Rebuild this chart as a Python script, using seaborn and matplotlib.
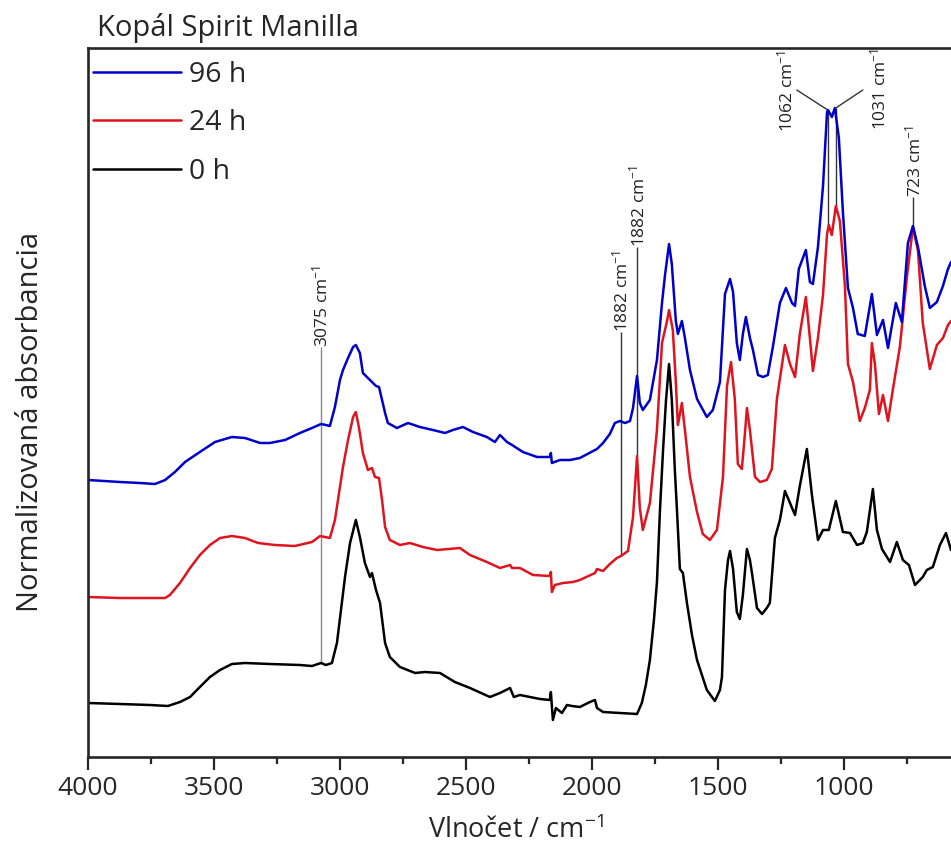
import matplotlib
matplotlib.use("Agg")
import matplotlib.pyplot as plt
import seaborn as sns
from matplotlib.ticker import MultipleLocator

# FTIR spectra (wavenumber in cm-1, normalised absorbance, stacked)
wn_0h = [4000, 3873, 3754, 3683, 3635, 3595, 3556, 3516, 3476, 3429, 3377, 3278, 3159, 3111, 3075, 3056,
         3032, 3012, 2996, 2980, 2960, 2937, 2921, 2901, 2881, 2873, 2857, 2841, 2821, 2802, 2762, 2702,
         2663, 2603, 2544, 2484, 2405, 2365, 2325, 2310, 2286, 2206, 2167, 2163, 2155, 2143, 2119, 2099,
         2079, 2048, 2008, 1988, 1980, 1956, 1889, 1821, 1802, 1786, 1770, 1754, 1742, 1730, 1718, 1706,
         1694, 1683, 1671, 1663, 1651, 1639, 1623, 1603, 1583, 1544, 1512, 1492, 1484, 1472, 1460, 1452,
         1440, 1425, 1413, 1401, 1385, 1373, 1365, 1345, 1325, 1306, 1294, 1274, 1254, 1234, 1214, 1194,
         1175, 1147, 1127, 1103, 1083, 1060, 1032, 1004, 976, 948, 925, 909, 885, 869, 849, 817,
         790, 766, 742, 718, 687, 671, 647, 619, 595, 575]
abs_0h = [0.54, 0.53, 0.52, 0.51, 0.55, 0.60, 0.70, 0.80, 0.87, 0.93, 0.94, 0.93, 0.92, 0.91, 0.94, 0.92,
          0.94, 1.14, 1.47, 1.80, 2.14, 2.37, 2.20, 1.94, 1.80, 1.84, 1.67, 1.54, 1.14, 1.00, 0.90, 0.84,
          0.85, 0.84, 0.75, 0.69, 0.60, 0.64, 0.69, 0.60, 0.62, 0.58, 0.57, 0.65, 0.37, 0.49, 0.44, 0.52,
          0.51, 0.50, 0.55, 0.57, 0.49, 0.45, 0.44, 0.43, 0.54, 0.72, 0.97, 1.37, 1.75, 2.47, 3.06, 3.57,
          3.93, 3.57, 2.87, 2.49, 1.88, 1.84, 1.54, 1.22, 0.97, 0.67, 0.56, 0.67, 0.80, 1.67, 1.97, 2.06,
          1.88, 1.45, 1.38, 1.62, 2.08, 1.97, 1.84, 1.49, 1.43, 1.49, 1.54, 2.19, 2.37, 2.66, 2.54, 2.42,
          2.71, 3.08, 2.62, 2.17, 2.27, 2.27, 2.56, 2.25, 2.24, 2.12, 2.14, 2.25, 2.68, 2.27, 2.08, 1.95,
          2.15, 1.97, 1.92, 1.72, 1.80, 1.87, 1.90, 2.12, 2.24, 2.07]

wn_24h = [4000, 3873, 3754, 3694, 3675, 3635, 3595, 3556, 3516, 3476, 3429, 3377, 3325, 3258, 3179, 3111,
          3079, 3060, 3040, 3020, 3000, 2988, 2968, 2948, 2937, 2925, 2909, 2889, 2873, 2861, 2845, 2833,
          2821, 2802, 2762, 2722, 2671, 2615, 2524, 2484, 2417, 2365, 2325, 2317, 2286, 2234, 2167, 2163,
          2159, 2147, 2115, 2075, 2048, 1988, 1980, 1956, 1929, 1901, 1885, 1857, 1837, 1821, 1810, 1798,
          1770, 1742, 1722, 1702, 1694, 1679, 1667, 1659, 1643, 1631, 1611, 1583, 1560, 1532, 1504, 1480,
          1464, 1448, 1433, 1421, 1405, 1393, 1385, 1373, 1353, 1333, 1306, 1286, 1266, 1234, 1214, 1194,
          1175, 1151, 1135, 1123, 1103, 1083, 1067, 1060, 1048, 1032, 1016, 996, 984, 964, 937, 917,
          897, 889, 877, 861, 845, 825, 806, 778, 750, 726, 706, 687, 659, 631, 607, 587, 575]
abs_24h = [1.60, 1.59, 1.59, 1.59, 1.62, 1.74, 1.89, 2.02, 2.12, 2.19, 2.21, 2.19, 2.14, 2.12, 2.11, 2.15,
           2.21, 2.20, 2.19, 2.37, 2.70, 2.90, 3.17, 3.40, 3.45, 3.30, 3.04, 2.87, 2.89, 2.80, 2.79, 2.57,
           2.30, 2.17, 2.12, 2.14, 2.10, 2.07, 2.09, 2.02, 1.95, 1.89, 1.92, 1.89, 1.89, 1.82, 1.81, 1.85,
           1.65, 1.72, 1.74, 1.75, 1.77, 1.84, 1.88, 1.86, 1.93, 1.99, 2.01, 2.06, 2.40, 3.01, 2.49, 2.27,
           2.54, 3.27, 4.14, 4.36, 4.47, 4.27, 3.75, 3.32, 3.54, 3.27, 2.80, 2.45, 2.23, 2.17, 2.27, 2.80,
           3.71, 3.95, 3.58, 2.93, 2.88, 3.23, 3.49, 3.27, 2.80, 2.75, 2.77, 2.88, 3.58, 4.12, 3.93, 3.80,
           4.23, 4.60, 4.19, 3.86, 4.19, 4.62, 5.23, 5.32, 5.22, 5.51, 5.36, 4.71, 3.93, 3.75, 3.36, 3.49,
           3.67, 4.14, 3.93, 3.43, 3.62, 3.36, 3.67, 4.10, 4.80, 5.30, 5.06, 4.34, 3.88, 4.12, 4.19, 4.32, 4.36]

wn_96h = [4000, 3873, 3794, 3734, 3694, 3655, 3615, 3556, 3496, 3429, 3377, 3317, 3278, 3218, 3159, 3111,
          3075, 3056, 3040, 3020, 3000, 2988, 2968, 2948, 2937, 2921, 2909, 2889, 2873, 2857, 2845, 2833,
          2821, 2810, 2774, 2730, 2683, 2631, 2583, 2552, 2512, 2472, 2417, 2385, 2365, 2337, 2317, 2274,
          2218, 2167, 2163, 2159, 2127, 2087, 2048, 1980, 1956, 1929, 1909, 1889, 1869, 1849, 1837, 1821,
          1810, 1798, 1770, 1742, 1722, 1710, 1694, 1683, 1667, 1659, 1643, 1631, 1611, 1583, 1544, 1520,
          1492, 1472, 1452, 1440, 1425, 1413, 1401, 1389, 1373, 1361, 1341, 1321, 1302, 1282, 1254, 1230,
          1206, 1194, 1179, 1151, 1135, 1123, 1103, 1083, 1067, 1063, 1048, 1036, 1020, 1004, 984, 964,
          945, 917, 889, 869, 845, 825, 794, 770, 746, 726, 706, 679, 659, 631, 607, 587, 575]
abs_96h = [2.77, 2.75, 2.74, 2.73, 2.77, 2.85, 2.95, 3.05, 3.15, 3.20, 3.19, 3.14, 3.14, 3.17, 3.24, 3.29,
           3.33, 3.32, 3.31, 3.50, 3.77, 3.87, 3.99, 4.10, 4.12, 4.04, 3.84, 3.79, 3.75, 3.71, 3.70, 3.57,
           3.44, 3.34, 3.29, 3.34, 3.30, 3.27, 3.24, 3.27, 3.30, 3.25, 3.20, 3.15, 3.22, 3.15, 3.12, 3.05,
           3.00, 3.00, 3.04, 2.94, 2.97, 2.97, 2.99, 3.08, 3.14, 3.23, 3.34, 3.36, 3.34, 3.36, 3.49, 3.81,
           3.54, 3.47, 3.57, 3.97, 4.54, 4.82, 5.13, 4.93, 4.36, 4.23, 4.36, 4.19, 3.87, 3.58, 3.40, 3.47,
           3.75, 4.63, 4.78, 4.65, 4.14, 3.97, 4.23, 4.40, 4.19, 4.07, 3.82, 3.80, 3.82, 4.10, 4.54, 4.69,
           4.54, 4.51, 4.88, 5.07, 4.75, 4.73, 5.10, 5.71, 6.45, 6.47, 6.40, 6.49, 6.19, 5.45, 4.69, 4.49,
           4.23, 4.21, 4.63, 4.22, 4.37, 4.09, 4.54, 4.35, 5.14, 5.31, 5.10, 4.71, 4.49, 4.55, 4.71, 4.88, 4.95]

# peak markers: line position, line bottom/top, label text and where the label sits
mark_wn = [3075, 1885, 1822, 1064, 1032, 726]
mark_lo = [0.94, 2.01, 3.01, 5.32, 5.51, 5.30]
mark_hi = [4.10, 4.25, 5.10, 6.47, 6.49, 5.60]
mark_text = ["3075", "1882", "1882", "1062", "1031", "723"]
text_wn = [3075, 1882, 1817, 1230, 857, 722]
text_y = [4.10, 4.25, 5.10, 6.25, 6.27, 5.60]

sns.set_style("ticks")
plt.rcParams["font.family"] = ["Open Sans", "DejaVu Sans"]
plt.rcParams["mathtext.fontset"] = "custom"
plt.rcParams["mathtext.rm"] = "Open Sans"
plt.rcParams["mathtext.default"] = "regular"

fig = plt.figure(figsize=(9.51, 8.68), dpi=100)
ax = fig.add_axes([88 / 951, 1 - 757 / 868, 863 / 951, 709 / 868])

sns.lineplot(x=wn_0h, y=abs_0h, color="black", linewidth=1.8, sort=False, estimator=None, label="0 h", ax=ax)
sns.lineplot(x=wn_24h, y=abs_24h, color="#e0141e", linewidth=1.8, sort=False, estimator=None, label="24 h", ax=ax)
sns.lineplot(x=wn_96h, y=abs_96h, color="#0000cc", linewidth=1.8, sort=False, estimator=None, label="96 h", ax=ax)

# annotation lines + rotated labels
for i, w in enumerate(mark_wn):
    col = "#888888" if i == 0 else "#333333"
    ax.vlines(w, mark_lo[i], mark_hi[i], color=col, linewidth=1.0, zorder=1)
    ax.text(text_wn[i], text_y[i], mark_text[i] + " cm$^{-1}$", rotation=90, ha="center", va="bottom",
            fontsize=12.5, color="#222222")
# the two slanted leaders of the 1062/1031 doublet
ax.plot([1064, 1187], [6.47, 6.67], color="#333333", linewidth=1.0)
ax.plot([1032, 925], [6.49, 6.67], color="#333333", linewidth=1.0)

ax.set_xlim(4000, 575)
ax.set_ylim(0, 7.09)
ax.set_yticks([])
ax.xaxis.set_major_locator(MultipleLocator(500))
ax.xaxis.set_minor_locator(MultipleLocator(250))
ax.tick_params(axis="x", which="major", direction="out", length=9, width=1.6, labelsize=19, pad=5)
ax.tick_params(axis="x", which="minor", direction="out", length=5, width=1.6)
for s in ["left", "bottom", "top"]:
    ax.spines[s].set_linewidth(1.9)
ax.spines["right"].set_visible(False)

ax.set_xlabel("Vlnočet / cm$^{-1}$", fontsize=19.5)
ax.set_ylabel("Normalizovaná absorbancia", fontsize=21)
ax.xaxis.set_label_coords(0.496, -0.084)
ax.yaxis.set_label_coords(-0.05, 0.472)

ax.text(0.0104, 1.017, "Kopál Spirit Manilla", transform=ax.transAxes, fontsize=21, va="baseline")

h, l = ax.get_legend_handles_labels()
ax.legend(h[::-1], l[::-1], loc="upper left", bbox_to_anchor=(0.006, 0.982), frameon=False,
          fontsize=20.5, handlelength=3.1, handletextpad=0.25, labelspacing=0.72, borderpad=0, borderaxespad=0)

fig.savefig("out.png", dpi=100)
